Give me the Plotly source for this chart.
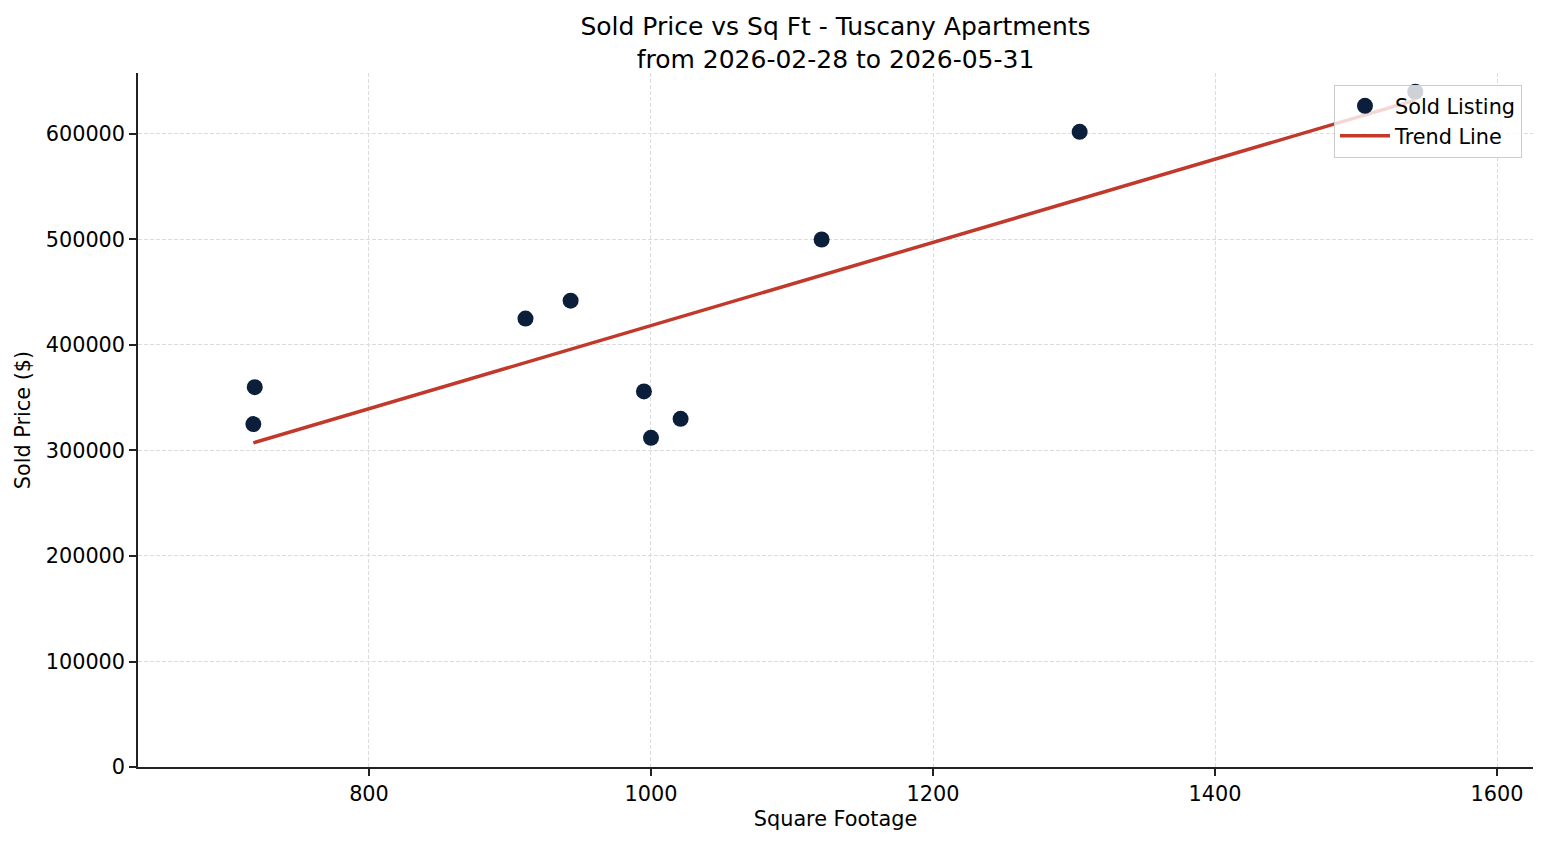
import numpy as np
import plotly.graph_objects as go

sqft = [719, 718, 911, 943, 995, 1000, 1021, 1121, 1304, 1542]
price = [360000, 325000, 425000, 442000, 356000, 312000, 330000, 500000, 602000, 640000]

x_ticks = [800, 1000, 1200, 1400, 1600]
y_ticks = [0, 100000, 200000, 300000, 400000, 500000, 600000]

title_lines = ["Sold Price vs Sq Ft - Tuscany Apartments", "from 2026-02-28 to 2026-05-31"]

coef = np.polyfit(sqft, price, 1)
trend_x = [min(sqft), max(sqft)]
trend_y = [coef[0] * v + coef[1] for v in trend_x]

FONT = "DejaVu Sans"
FS = 20.8

fig = go.Figure()
fig.add_trace(go.Scatter(
    x=sqft, y=price, mode="markers", name="Sold Listing",
    marker=dict(size=16, color="#0b1f3a", line=dict(width=0)),
))
fig.add_trace(go.Scatter(
    x=trend_x, y=trend_y, mode="lines", name="Trend Line",
    line=dict(color="#c0392b", width=3.5),
))

axis_common = dict(
    showline=True, linecolor="#222222", linewidth=1.5,
    ticks="outside", ticklen=7, tickwidth=1.5, tickcolor="#222222",
    showgrid=True, gridcolor="#dcdcdc", gridwidth=0.7, griddash="4px,2px",
    zeroline=False, mirror=False,
    tickfont=dict(family=FONT, size=FS, color="#000000"),
)

fig.update_layout(
    width=1547, height=845,
    margin=dict(l=138, r=14, t=73, b=78),
    paper_bgcolor="white", plot_bgcolor="white",
    font=dict(family=FONT, size=FS, color="#000000"),
    title=dict(
        text="<br>".join(title_lines),
        x=0.5, xanchor="center", xref="paper",
        y=0.958, yanchor="top", yref="container",
        font=dict(family=FONT, size=25, color="#000000"),
    ),
    xaxis=dict(
        range=[636.2, 1625.5], tickvals=x_ticks,
        title=dict(text="Square Footage", font=dict(family=FONT, size=FS), standoff=7),
        **axis_common,
    ),
    yaxis=dict(
        range=[0, 657800], tickvals=y_ticks, tickformat="d",
        title=dict(text="Sold Price ($)", font=dict(family=FONT, size=FS), standoff=9),
        **axis_common,
    ),
    legend=dict(
        x=0.9921, xanchor="right", y=0.983, yanchor="top",
        bgcolor="rgba(255,255,255,0.8)", bordercolor="#cccccc", borderwidth=1,
        font=dict(family=FONT, size=FS), itemwidth=50, tracegroupgap=0,
    ),
    showlegend=True,
)

fig.write_html("out.html")
